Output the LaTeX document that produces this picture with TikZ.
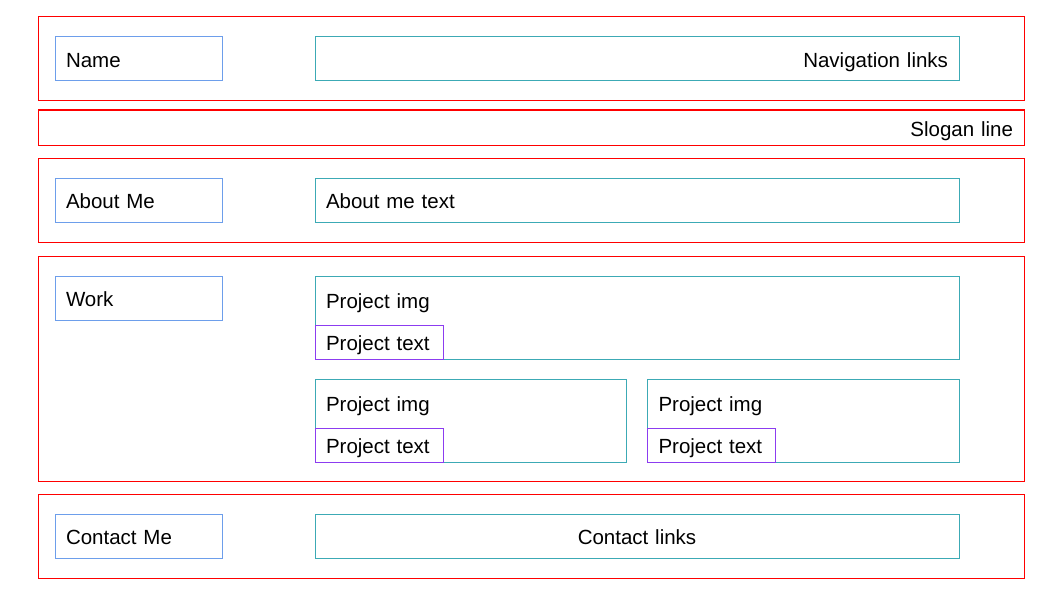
\documentclass[tikz,border=0pt]{standalone}
\usepackage{fontspec}
\setmainfont{Liberation Sans}
\usetikzlibrary{positioning}
\definecolor{wfred}{HTML}{FF0000}
\definecolor{wfblue}{HTML}{6D9EEB}
\definecolor{wfteal}{HTML}{3CAAB5}
\definecolor{wfpurple}{HTML}{8C3CF0}
\tikzset{
	wf/.style={line width=1pt, anchor=north west, outer sep=0pt, inner xsep=11pt, inner ysep=0pt, text height=17pt, text depth=0pt, font=\fontsize{20.5pt}{24pt}\selectfont},
	sect/.style={wf, draw=wfred, text width=964pt, align=right},
	lbox/.style={wf, draw=wfblue, text width=145pt, minimum height=44pt, align=left},
	rbox/.style={wf, draw=wfteal, text width=622pt, minimum height=44pt, align=left},
	halfbox/.style={wf, draw=wfteal, text width=289.5pt, minimum height=83pt},
	tbox/.style={wf, draw=wfpurple, text width=106pt, minimum height=34pt, align=left},
	imgtxt/.style={wf, text width=200pt, minimum height=48pt, align=left}
}

\begin{document}
\begin{tikzpicture}[x=1pt, y=-1pt]
	\useasboundingbox (0,0) rectangle (1061,594);
	% sections
	\node[sect, minimum height=84pt] (head) at (38,17) {};
	\node[sect, minimum height=35pt] (slogan) at (38,110) {Slogan line};
	\node[sect, minimum height=84pt] (about) at (38,158) {};
	\node[sect, minimum height=225pt] (work) at (38,256) {};
	\node[sect, minimum height=84pt] (contact) at (38,494) {};
	
	% header
	\node[lbox, below right=20pt and 17pt of head.north west] (name) {Name};
	\node[rbox, align=right, right=93pt of name] (navlinks) {Navigation links};
	
	% about
	\node[lbox, below right=20pt and 17pt of about.north west] (aboutlbl) {About Me};
	\node[rbox, right=93pt of aboutlbl] (abouttxt) {About me text};
	
	% work
	\node[lbox, below right=20pt and 17pt of work.north west] (worklbl) {Work};
	\node[halfbox, text width=622pt, right=93pt of worklbl.north east, anchor=north west] (proj1) {};
	\node[imgtxt] (img1) at (proj1.north west) {Project img};
	\node[tbox, anchor=south west] (ptext1) at (proj1.south west) {Project text};
	\node[halfbox, below=20pt of proj1.south west, anchor=north west] (proj2) {};
	\node[imgtxt] (img2) at (proj2.north west) {Project img};
	\node[tbox, anchor=south west] (ptext2) at (proj2.south west) {Project text};
	\node[halfbox, right=21pt of proj2] (proj3) {};
	\node[imgtxt] (img3) at (proj3.north west) {Project img};
	\node[tbox, anchor=south west] (ptext3) at (proj3.south west) {Project text};
	
	% contact
	\node[lbox, below right=20pt and 17pt of contact.north west] (contactlbl) {Contact Me};
	\node[rbox, align=center, right=93pt of contactlbl] (contactlinks) {Contact links};
\end{tikzpicture}
\end{document}
